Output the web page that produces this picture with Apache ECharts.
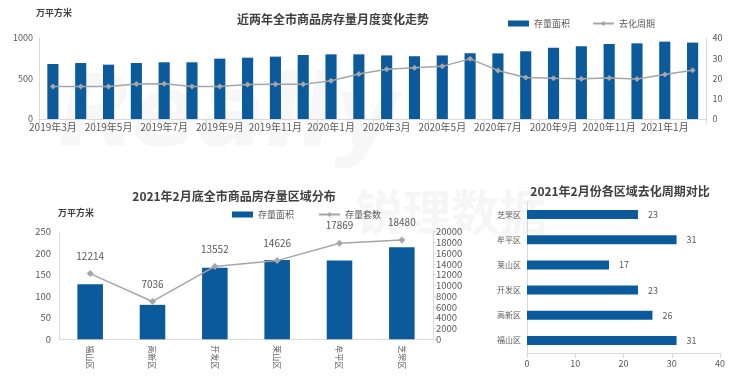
<!DOCTYPE html>
<html><head><meta charset="utf-8">
<script src="https://cdn.jsdelivr.net/npm/echarts@6/dist/echarts.min.js"></script>
<style>html,body{margin:0;padding:0;background:#fff}#c{width:740px;height:381px}</style>
</head><body><div id="c"></div>
<script>
const months = ['2019年3月','2019年4月','2019年5月','2019年6月','2019年7月','2019年8月','2019年9月','2019年10月','2019年11月','2019年12月','2020年1月','2020年2月','2020年3月','2020年4月','2020年5月','2020年6月','2020年7月','2020年8月','2020年9月','2020年10月','2020年11月','2020年12月','2021年1月','2021年2月'];
const stockArea = [679,691,671,691,700,700,745,757,770,790,798,798,785,775,785,812,810,836,881,898,926,934,955,943];
const sellCycle = [16.0,16.0,16.1,17.3,17.4,16.0,16.1,17.0,17.1,17.1,18.9,22.2,24.6,25.3,26.0,29.7,24.0,20.5,20.1,19.9,20.2,19.8,22.0,24.1];
const districts = ['福山区','高新区','开发区','莱山区','牟平区','芝罘区'];
const districtArea = [128,80,166,184,183,214];
const districtUnits = [12214,7036,13552,14626,17869,18480];
const districtCycle = [31,26,23,17,31,23];

const BLUE = '#0b5a9c', GRAY = '#a6a6a6', TXT = '#595959', AX = '#d9d9d9';
const FF = '"Noto Sans CJK SC", "Noto Sans", sans-serif';
const plain = (v) => String(v);
const axisLbl = (s) => ({color: TXT, fontSize: s, fontFamily: FF});

const chart = echarts.init(document.getElementById('c'));
chart.setOption({
  animation: false,
  textStyle: {fontFamily: FF},
  graphic: [
    {type:'text', left: 58, top: 70, z: -10, style:{text:'Really', font:'italic bold 100px "DejaVu Sans"', fill:'rgba(0,0,0,0.03)'}},
    {type:'text', left: 355, top: 188, z: -10, style:{text:'锐理数据', font:'bold 48px "Noto Sans CJK SC"', fill:'rgba(0,0,0,0.035)'}},
    {type:'text', left: 36, top: 8, style:{text:'万平方米', font:'bold 9px "Noto Sans CJK SC"', fill:'#404040'}},
    {type:'text', left: 58, top: 208, style:{text:'万平方米', font:'bold 9px "Noto Sans CJK SC"', fill:'#404040'}}
  ],
  title: [
    {text:'近两年全市商品房存量月度变化走势', left: 328, top: 8, textAlign:'center', textStyle:{fontSize:12, fontWeight:'bold', color:'#404040', fontFamily: FF}},
    {text:'2021年2月底全市商品房存量区域分布', left: 229, top: 185, textAlign:'center', textStyle:{fontSize:12, fontWeight:'bold', color:'#404040', fontFamily: FF}},
    {text:'2021年2月份各区域去化周期对比', left: 615, top: 180, textAlign:'center', textStyle:{fontSize:12, fontWeight:'bold', color:'#404040', fontFamily: FF}}
  ],
  legend: [
    {data:[{name:'存量面积', icon:'rect'},{name:'去化周期'}], left: 503, top: 14, itemWidth: 21, itemHeight: 6, itemGap: 22,
     textStyle:{fontSize:9, color:TXT, fontFamily: FF}},
    {data:[{name:'存量面积 ', icon:'rect'},{name:'存量套数'}], left: 227, top: 205, itemWidth: 21, itemHeight: 6, itemGap: 22,
     textStyle:{fontSize:9, color:TXT, fontFamily: FF}}
  ],
  grid: [
    {left: 39, right: 33.5, top: 38, height: 81},
    {left: 59, right: 307, top: 231.7, height: 107.6},
    {left: 527, width: 193, top: 202, height: 151}
  ],
  xAxis: [
    {gridIndex:0, type:'category', data: months, axisLine:{lineStyle:{color:AX}}, axisTick:{show:true, interval:1, lineStyle:{color:AX}}, axisLabel:{...axisLbl(10), interval:1, margin:3}},
    {gridIndex:1, type:'category', data: districts, axisLine:{lineStyle:{color:AX}}, axisTick:{lineStyle:{color:AX}}, axisLabel:{...axisLbl(8), rotate:-90, margin:6}},
    {gridIndex:2, type:'value', min:0, max:40, interval:10, axisLine:{show:true, lineStyle:{color:AX}}, axisTick:{show:true, lineStyle:{color:AX}}, splitLine:{show:false}, axisLabel:{...axisLbl(9), margin:6, formatter: plain}}
  ],
  yAxis: [
    {gridIndex:0, type:'value', min:0, max:1000, interval:500, axisLine:{show:true, lineStyle:{color:AX}}, axisTick:{show:false}, splitLine:{show:false}, axisLabel:{...axisLbl(9), margin:6, formatter: plain}},
    {gridIndex:0, type:'value', position:'right', min:0, max:40, interval:10, axisLine:{show:true, lineStyle:{color:AX}}, axisTick:{show:false}, splitLine:{show:false}, axisLabel:{...axisLbl(9), margin:6, formatter: plain}},
    {gridIndex:1, type:'value', min:0, max:250, interval:50, axisLine:{show:true, lineStyle:{color:AX}}, axisTick:{show:false}, splitLine:{show:false}, axisLabel:{...axisLbl(9.5), margin:8, formatter: plain}},
    {gridIndex:1, type:'value', position:'right', min:0, max:20000, interval:2000, axisLine:{show:true, lineStyle:{color:AX}}, axisTick:{show:true, inside:false, length:3, lineStyle:{color:AX}}, splitLine:{show:false}, axisLabel:{...axisLbl(9.5), margin:3, formatter: plain}},
    {gridIndex:2, type:'category', data: districts, axisLine:{lineStyle:{color:AX}}, axisTick:{lineStyle:{color:AX}}, axisLabel:{...axisLbl(8), margin:6}}
  ],
  series: [
    {name:'存量面积', type:'bar', xAxisIndex:0, yAxisIndex:0, data: stockArea, barWidth:'40%', itemStyle:{color:BLUE}},
    {name:'去化周期', type:'line', xAxisIndex:0, yAxisIndex:1, data: sellCycle, symbol:'diamond', symbolSize:6, lineStyle:{color:GRAY, width:1.5}, itemStyle:{color:GRAY}},
    {name:'存量面积 ', type:'bar', xAxisIndex:1, yAxisIndex:2, data: districtArea, barWidth:'41%', itemStyle:{color:BLUE}},
    {name:'存量套数', type:'line', xAxisIndex:1, yAxisIndex:3, data: districtUnits, symbol:'diamond', symbolSize:7, lineStyle:{color:GRAY, width:1.5}, itemStyle:{color:GRAY},
     label:{show:true, position:'top', distance:9, color:TXT, fontSize:10, fontFamily: FF, formatter: (p) => String(p.value)}},
    {name:'周期', type:'bar', xAxisIndex:2, yAxisIndex:4, data: districtCycle, barWidth:'36%', itemStyle:{color:BLUE},
     label:{show:true, position:'right', distance:10, color:TXT, fontSize:9, fontFamily: FF}}
  ]
});
</script></body></html>
